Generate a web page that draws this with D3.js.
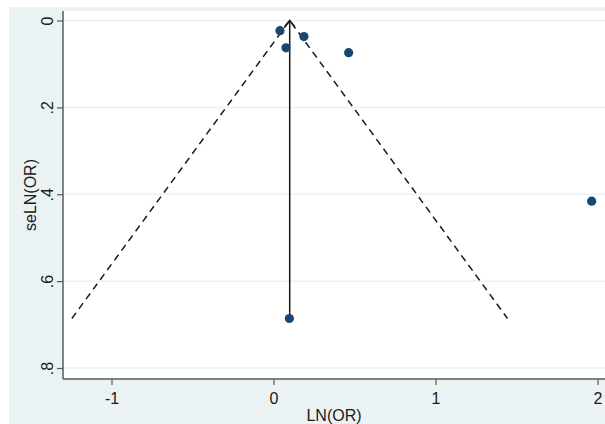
<!DOCTYPE html>
<html><head><meta charset="utf-8">
<script src="https://cdn.jsdelivr.net/npm/d3@7"></script>
<style>html,body{margin:0;padding:0;background:#fff;}svg{display:block;}</style>
</head><body>
<svg id="c" width="605" height="424"></svg>
<script>
// Data
const studyLnOR = [0.04, 0.077, 0.188, 0.464, 1.964, 0.098];
const studySe   = [0.0235, 0.063, 0.037, 0.074, 0.416, 0.686];
const pooledLnOR = 0.10;
const maxSe = 0.686;
const xTicks = [-1, 0, 1, 2];
const xTickLabels = ["-1", "0", "1", "2"];
const yTicks = [0, 0.2, 0.4, 0.6, 0.8];
const yTickLabels = ["0", ".2", ".4", ".6", ".8"];
const xTitle = "LN(OR)";
const yTitle = "seLN(OR)";

const svg = d3.select("#c");
const W = 605, H = 424;
const plot = {left: 63, right: 605, top: 11, bottom: 379};
const FONT = "Liberation Sans, Arial, sans-serif";

// outer background
svg.append("rect").attr("x", 9).attr("y", 7).attr("width", W - 9).attr("height", H - 7).attr("fill", "#eaf2f3");
// plot region
svg.append("rect").attr("x", plot.left).attr("y", plot.top).attr("width", plot.right - plot.left).attr("height", plot.bottom - plot.top).attr("fill", "#ffffff");

const x = d3.scaleLinear().domain([0, 1]).range([273.5, 435.5]);
const y = d3.scaleLinear().domain([0, 0.8]).range([20.5, 368]);

// gridlines
svg.append("g").selectAll("line").data(yTicks).join("line")
  .attr("x1", plot.left).attr("x2", plot.right)
  .attr("y1", d => y(d)).attr("y2", d => y(d))
  .attr("stroke", "#eaf2f3").attr("stroke-width", 1.5);

// axes
const axisColor = "#5a5a5a";
const yAxis = svg.append("g").attr("transform", `translate(${plot.left},0)`)
  .call(d3.axisLeft(y).tickValues(yTicks).tickFormat((d, i) => yTickLabels[i]).tickSize(6).tickSizeOuter(0));
yAxis.select(".domain").remove();
yAxis.append("line").attr("x1", 0).attr("x2", 0).attr("y1", plot.top).attr("y2", plot.bottom).attr("stroke", axisColor).attr("stroke-width", 1.5);
yAxis.selectAll(".tick line").attr("stroke", axisColor).attr("stroke-width", 1.2);
yAxis.selectAll(".tick text")
  .attr("x", 0).attr("y", 0).attr("dy", null)
  .attr("transform", "translate(-10,0) rotate(-90)")
  .attr("text-anchor", "middle")
  .attr("font-family", FONT).attr("font-size", 16).attr("fill", "#1a1a1a");

const xAxis = svg.append("g").attr("transform", `translate(0,${plot.bottom})`)
  .call(d3.axisBottom(x).tickValues(xTicks).tickFormat((d, i) => xTickLabels[i]).tickSize(6).tickSizeOuter(0));
xAxis.select(".domain").remove();
xAxis.append("line").attr("x1", plot.left).attr("x2", plot.right).attr("y1", 0).attr("y2", 0).attr("stroke", axisColor).attr("stroke-width", 1.5);
xAxis.selectAll(".tick line").attr("stroke", axisColor).attr("stroke-width", 1.2);
xAxis.selectAll(".tick text").attr("y", 14).attr("dy", "0.71em")
  .attr("font-family", FONT).attr("font-size", 16).attr("fill", "#1a1a1a");

// titles
svg.append("text").attr("x", (plot.left + plot.right) / 2).attr("y", 421)
  .attr("text-anchor", "middle").attr("font-family", FONT).attr("font-size", 16).attr("fill", "#1a1a1a").text(xTitle);
svg.append("text").attr("transform", `translate(36,${(plot.top + plot.bottom) / 2}) rotate(-90)`)
  .attr("text-anchor", "middle").attr("font-family", FONT).attr("font-size", 16).attr("fill", "#1a1a1a").text(yTitle);

// funnel (pseudo 95% CI)
const funnel = [[pooledLnOR - 1.96 * maxSe, maxSe], [pooledLnOR, 0], [pooledLnOR + 1.96 * maxSe, maxSe]];
svg.append("path").attr("d", d3.line().x(d => x(d[0])).y(d => y(d[1]))(funnel))
  .attr("fill", "none").attr("stroke", "#1a1a1a").attr("stroke-width", 1.5).attr("stroke-dasharray", "7,5");

// pooled vertical line
svg.append("line").attr("x1", x(pooledLnOR)).attr("x2", x(pooledLnOR))
  .attr("y1", y(0)).attr("y2", y(maxSe)).attr("stroke", "#1a1a1a").attr("stroke-width", 1.5);
// arrowhead at apex
svg.append("path").attr("d", `M${x(pooledLnOR) - 5},${y(0) + 6} L${x(pooledLnOR)},${y(0)} L${x(pooledLnOR) + 5},${y(0) + 6}`)
  .attr("fill", "none").attr("stroke", "#1a1a1a").attr("stroke-width", 1.5);

// studies
svg.append("g").selectAll("circle").data(studyLnOR.map((v, i) => [v, studySe[i]])).join("circle")
  .attr("cx", d => x(d[0])).attr("cy", d => y(d[1])).attr("r", 4.6).attr("fill", "#1a476f");
</script>
</body></html>
